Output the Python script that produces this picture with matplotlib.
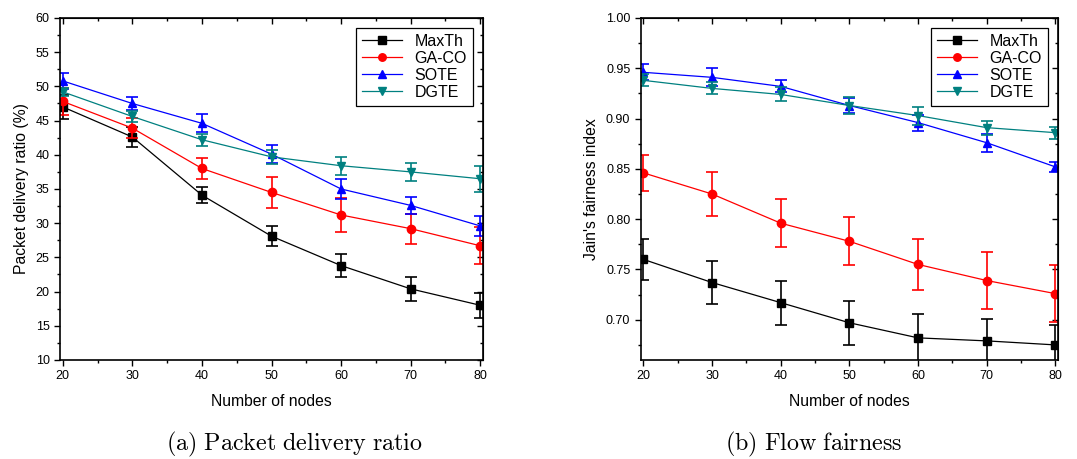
import matplotlib
matplotlib.use('Agg')
import matplotlib.pyplot as plt
from matplotlib.ticker import MultipleLocator

# data
nodes = [20, 30, 40, 50, 60, 70, 80]
methods = ['MaxTh', 'GA-CO', 'SOTE', 'DGTE']

pdr_maxth = [47.0, 42.6, 34.1, 28.1, 23.8, 20.4, 18.0]
pdr_gaco = [47.8, 43.9, 38.0, 34.5, 31.2, 29.2, 26.7]
pdr_sote = [50.8, 47.5, 44.6, 40.1, 35.0, 32.6, 29.6]
pdr_dgte = [49.2, 45.6, 42.2, 39.7, 38.4, 37.5, 36.5]
pdr_err_maxth = [1.7, 1.5, 1.2, 1.5, 1.7, 1.8, 1.8]
pdr_err_gaco = [2.0, 1.5, 1.5, 2.3, 2.5, 2.2, 2.7]
pdr_err_sote = [1.2, 1.0, 1.3, 1.3, 1.4, 1.3, 1.5]
pdr_err_dgte = [0.6, 0.8, 0.9, 1.0, 1.3, 1.3, 1.9]

fair_maxth = [0.760, 0.737, 0.717, 0.697, 0.682, 0.679, 0.675]
fair_gaco = [0.846, 0.825, 0.796, 0.778, 0.755, 0.739, 0.726]
fair_sote = [0.946, 0.941, 0.932, 0.913, 0.896, 0.876, 0.852]
fair_dgte = [0.938, 0.930, 0.924, 0.913, 0.903, 0.891, 0.886]
fair_err_maxth = [0.020, 0.021, 0.022, 0.022, 0.024, 0.022, 0.020]
fair_err_gaco = [0.018, 0.022, 0.024, 0.024, 0.025, 0.028, 0.028]
fair_err_sote = [0.008, 0.009, 0.006, 0.007, 0.008, 0.009, 0.005]
fair_err_dgte = [0.006, 0.006, 0.007, 0.008, 0.009, 0.007, 0.006]

colors = ['black', '#ff0000', '#0000ff', '#008080']
markers = ['s', 'o', '^', 'v']

plt.rcParams['font.family'] = ['Liberation Sans', 'DejaVu Sans']
plt.rcParams['mathtext.fontset'] = 'cm'

fig = plt.figure(figsize=(10.77, 4.59), dpi=100)
ax1 = fig.add_axes([0.0557, 0.2157, 0.3928, 0.7451])
ax2 = fig.add_axes([0.5949, 0.2157, 0.3875, 0.7451])


def draw(ax, ys, errs):
    for y, e, c, m, name in zip(ys, errs, colors, markers, methods):
        ax.errorbar(nodes, y, yerr=e, color=c, ecolor=c, elinewidth=1.2,
                    capsize=4, capthick=1.2, fmt='none')
        ax.plot(nodes, y, color=c, marker=m, markersize=6, linewidth=0.9,
                label=name)
    ax.set_xlim(19.6, 80.4)
    ax.xaxis.set_major_locator(MultipleLocator(10))
    ax.xaxis.set_minor_locator(MultipleLocator(5))
    ax.tick_params(which='both', direction='out', labelsize=9, width=1)
    ax.tick_params(which='major', length=4)
    ax.tick_params(which='minor', length=2.5)
    for s in ax.spines.values():
        s.set_linewidth(1.2)
    # mirrored ticks pointing inward on top and right
    top = ax.secondary_xaxis('top')
    top.xaxis.set_major_locator(MultipleLocator(10))
    top.xaxis.set_minor_locator(MultipleLocator(5))
    top.tick_params(which='both', direction='in', labeltop=False, width=1)
    top.tick_params(which='major', length=4)
    top.tick_params(which='minor', length=2.5)
    right = ax.secondary_yaxis('right')
    right.yaxis.set_major_locator(ax.yaxis.get_major_locator())
    right.yaxis.set_minor_locator(ax.yaxis.get_minor_locator())
    right.tick_params(which='both', direction='in', labelright=False, width=1)
    right.tick_params(which='major', length=4)
    right.tick_params(which='minor', length=2.5)
    ax.set_xlabel('Number of nodes', fontsize=11.3, labelpad=8)
    leg = ax.legend(loc='upper right', fontsize=11.5, frameon=True,
                    fancybox=False, edgecolor='black', framealpha=1,
                    handlelength=2.5, borderpad=0.4, labelspacing=0.12,
                    borderaxespad=0.6, markerscale=0.9)
    leg.get_frame().set_linewidth(0.9)


ax1.set_ylim(10, 60)
ax1.yaxis.set_major_locator(MultipleLocator(5))
ax1.yaxis.set_minor_locator(MultipleLocator(2.5))
draw(ax1, [pdr_maxth, pdr_gaco, pdr_sote, pdr_dgte],
     [pdr_err_maxth, pdr_err_gaco, pdr_err_sote, pdr_err_dgte])
ax1.set_ylabel('Packet delivery ratio (%)', fontsize=11.3, labelpad=5)

ax2.set_ylim(0.66, 1.0)
ax2.yaxis.set_major_locator(MultipleLocator(0.05))
ax2.yaxis.set_minor_locator(MultipleLocator(0.025))
ax2.yaxis.set_major_formatter(matplotlib.ticker.FormatStrFormatter('%.2f'))
draw(ax2, [fair_maxth, fair_gaco, fair_sote, fair_dgte],
     [fair_err_maxth, fair_err_gaco, fair_err_sote, fair_err_dgte])
ax2.set_ylabel("Jain's fairness index", fontsize=11.3, labelpad=5)

fig.text(0.273, 0.031, r'$\mathrm{(a)\ Packet\ delivery\ ratio}$',
         ha='center', va='center', fontsize=17.3)
fig.text(0.755, 0.031, r'$\mathrm{(b)\ Flow\ fairness}$',
         ha='center', va='center', fontsize=17.3)

fig.savefig('out.png', dpi=100)
